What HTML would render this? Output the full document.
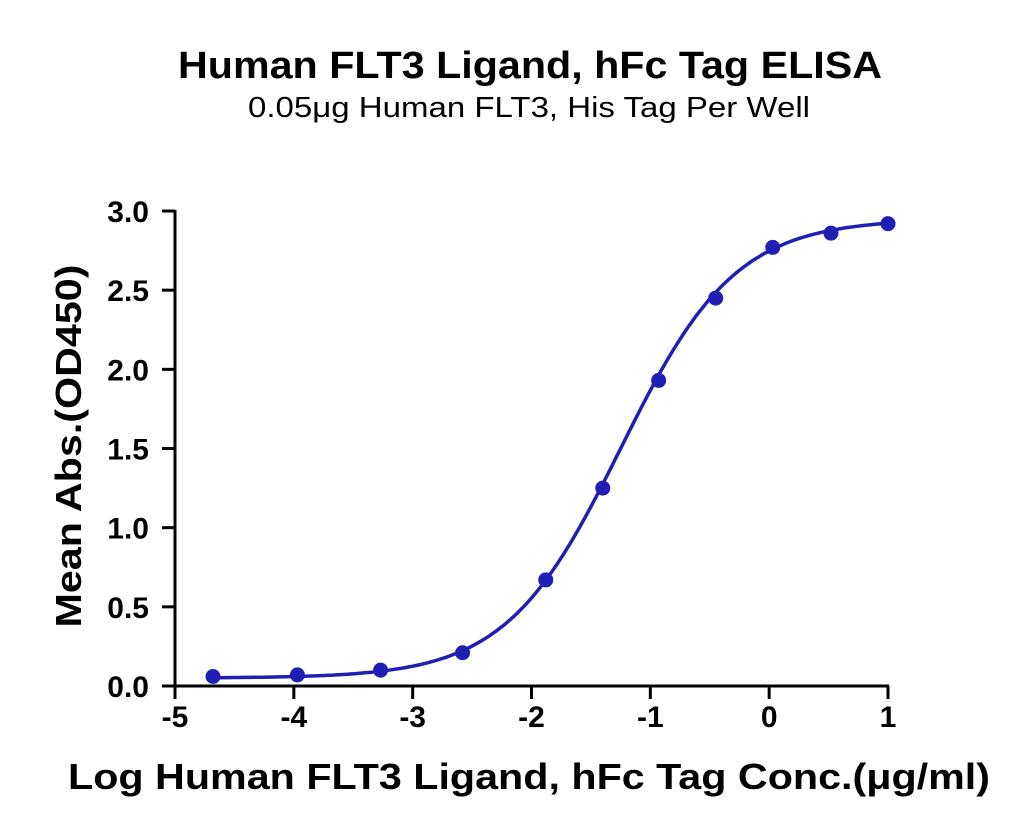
<!DOCTYPE html>
<html><head><meta charset="utf-8"><style>
body{margin:0;background:#fff;}
svg{display:block;font-family:"Liberation Sans",Arial,sans-serif;}
</style></head><body>
<svg id="chart" width="1030" height="830">
<text x="530" y="78" text-anchor="middle" font-size="38" font-weight="bold" textLength="704" lengthAdjust="spacingAndGlyphs">Human FLT3 Ligand, hFc Tag ELISA</text>
<text x="529" y="117" text-anchor="middle" font-size="29" textLength="562" lengthAdjust="spacingAndGlyphs">0.05μg Human FLT3, His Tag Per Well</text>
<text transform="translate(81,446) rotate(-90)" text-anchor="middle" font-size="36" font-weight="bold" textLength="363" lengthAdjust="spacingAndGlyphs">Mean Abs.(OD450)</text>
<text x="529" y="789" text-anchor="middle" font-size="36" font-weight="bold" textLength="922" lengthAdjust="spacingAndGlyphs">Log Human FLT3 Ligand, hFc Tag Conc.(μg/ml)</text>
<g id="axes"></g><g id="plot"></g>
</svg>
<script>
const xVals=[-4.68,-3.97,-3.27,-2.58,-1.88,-1.40,-0.93,-0.45,0.03,0.52,1.0];
const yVals=[0.06,0.07,0.10,0.21,0.67,1.25,1.93,2.45,2.77,2.86,2.92];
const xTicks=[-5,-4,-3,-2,-1,0,1];
const yTicks=[0.0,0.5,1.0,1.5,2.0,2.5,3.0];
const fitParams=[0.05,2.95,-1.25,0.9]; // bottom, top, logEC50, hill
const NS="http://www.w3.org/2000/svg";
const X0=175,X1=888,Y0=686,Y1=211;
const sx=v=>X0+(v+5)/6*(X1-X0);
const sy=v=>Y0-v/3*(Y0-Y1);
function mk(tag,attrs,parent){const e=document.createElementNS(NS,tag);for(const k in attrs)e.setAttribute(k,attrs[k]);parent.appendChild(e);return e;}
const axes=document.getElementById('axes'),plot=document.getElementById('plot');
let a=mk('line',{x1:X0,y1:Y0,x2:X1+1,y2:Y0,stroke:'#000','stroke-width':3},axes);

a=mk('line',{x1:X0,y1:Y1-1,x2:X0,y2:Y0+1.5,stroke:'#000','stroke-width':3},axes);

xTicks.forEach(t=>{const x=sx(t);
 let l=mk('line',{x1:x,y1:Y0,x2:x,y2:Y0+13,stroke:'#000','stroke-width':3},axes);
 
 let tx=mk('text',{x:x,y:Y0+41,'text-anchor':'middle','font-size':30,'font-weight':'bold'},axes);tx.textContent=t;
 });
yTicks.forEach(t=>{const y=sy(t);
 let l=mk('line',{x1:X0-13,y1:y,x2:X0,y2:y,stroke:'#000','stroke-width':3},axes);
 
 let tx=mk('text',{x:X0-26,y:y+11,'text-anchor':'end','font-size':30,'font-weight':'bold'},axes);tx.textContent=t.toFixed(1);
 });
const [b,tp,ec,h]=fitParams;
const f=x=>b+(tp-b)/(1+Math.pow(10,(ec-x)*h));
let d='';const xa=xVals[0],xb=xVals[xVals.length-1];
for(let i=0;i<=200;i++){const x=xa+(xb-xa)*i/200;d+=(i?'L':'M')+sx(x).toFixed(1)+','+sy(f(x)).toFixed(1);}
const c=mk('path',{d:d,fill:'none',stroke:'#1f1fb4','stroke-width':3.5},plot);

xVals.forEach((x,i)=>{const p=mk('circle',{cx:sx(x),cy:sy(yVals[i]),r:7.5,fill:'#1f1fb4'},plot);
 });
</script>
</body></html>
